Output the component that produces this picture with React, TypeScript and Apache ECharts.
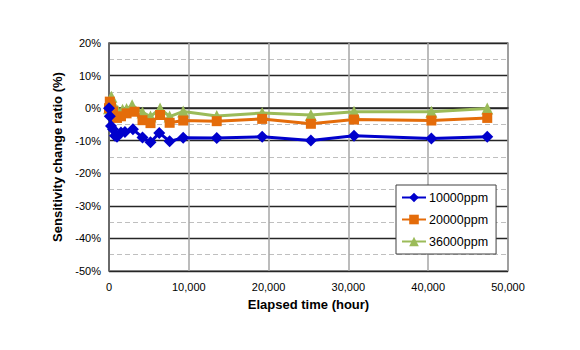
import React, { useEffect, useRef } from "react";
import * as echarts from "echarts";

const seriesNames = ["10000ppm", "20000ppm", "36000ppm"];
const seriesColors = ["#0000CC", "#E46C0A", "#9BBB59"];
const seriesSymbols = ["diamond", "rect", "triangle"];

const hours10000 = [0, 100, 250, 500, 750, 1000, 1500, 2000, 3000, 4200, 5200, 6300, 7600, 9300, 13500, 19200, 25300, 30700, 40400, 47400];
const values10000 = [0, -2.5, -5.5, -6.5, -8.5, -8.8, -7.5, -7.3, -6.5, -9.0, -10.5, -7.6, -10.2, -9.1, -9.2, -8.8, -9.9, -8.5, -9.3, -8.8];

const hours20000 = [0, 100, 250, 500, 1000, 1500, 2200, 3200, 4200, 5200, 6400, 7600, 9300, 13500, 19200, 25300, 30700, 40400, 47400];
const values20000 = [0, 2, 0.5, -1, -3.0, -2.5, -1.6, -1.1, -3.7, -4.6, -2.1, -4.5, -3.8, -4.0, -3.3, -4.8, -3.5, -3.8, -3.0];

const hours36000 = [0, 100, 300, 600, 1100, 1700, 2200, 2900, 4200, 5200, 6400, 7600, 9300, 13500, 19200, 25300, 30700, 40400, 47400];
const values36000 = [0, 2, 3.5, 1, -0.8, -0.5, -0.3, 0.9, -1.3, -2.6, -0.1, -2.6, -1.0, -2.4, -1.5, -2.1, -1.1, -1.1, -0.1];

const xAxisName = "Elapsed time (hour)";
const yAxisName = "Sensitivity change ratio (%)";

const FONT = "'Liberation Sans', Arial, sans-serif";

function zip(xs: number[], ys: number[]) {
  return xs.map((x, i) => [x, ys[i]]);
}

export default function App() {
  const ref = useRef<HTMLDivElement>(null);
  useEffect(() => {
    if (!ref.current) return;
    const chart = echarts.init(ref.current, null, { renderer: "svg" });
    const allData = [
      zip(hours10000, values10000),
      zip(hours20000, values20000),
      zip(hours36000, values36000),
    ];
    const sizes = [12, 10, 12];
    chart.setOption({
      animation: false,
      backgroundColor: "#ffffff",
      textStyle: { fontFamily: FONT },
      grid: { left: 109, right: 72, top: 43, bottom: 79, containLabel: false },
      legend: {
        orient: "vertical",
        left: 396,
        top: 185,
        padding: [6, 8, 6, 5],
        itemGap: 9,
        itemWidth: 24,
        itemHeight: 12,
        backgroundColor: "#ffffff",
        borderColor: "#404040",
        borderWidth: 1,
        textStyle: { fontFamily: FONT, fontSize: 12.5, color: "#000", padding: [0, 0, 0, -2] },
        data: seriesNames,
      },
      xAxis: {
        type: "value",
        min: 0,
        max: 50000,
        interval: 10000,
        name: xAxisName,
        nameLocation: "middle",
        nameGap: 27,
        nameTextStyle: { fontFamily: FONT, fontSize: 13, fontWeight: "bold", color: "#000" },
        axisLine: { show: true, lineStyle: { color: "#262626", width: 1.5 } },
        axisTick: { show: false },
        axisLabel: {
          fontFamily: FONT,
          fontSize: 11,
          color: "#000",
          margin: 10,
          formatter: (v: number) => v.toLocaleString("en-US"),
        },
        splitLine: { show: true, lineStyle: { color: "#A6A6A6", width: 1.5 } },
      },
      yAxis: {
        type: "value",
        min: -50,
        max: 20,
        interval: 10,
        name: yAxisName,
        nameLocation: "middle",
        nameGap: 40,
        nameTextStyle: { fontFamily: FONT, fontSize: 13, fontWeight: "bold", color: "#000" },
        axisLine: { show: true, lineStyle: { color: "#595959", width: 1.5 } },
        axisTick: { show: false },
        axisLabel: {
          fontFamily: FONT,
          fontSize: 11,
          color: "#000",
          margin: 8,
          formatter: (v: number) => `${v}%`,
        },
        splitLine: { show: true, lineStyle: { color: "#262626", width: 1.3 } },
        minorTick: { show: false, splitNumber: 2 },
        minorSplitLine: { show: true, lineStyle: { color: "#BFBFBF", width: 1, type: [5, 3] } },
      },
      series: seriesNames.map((name, i) => ({
        name,
        type: "line",
        data: allData[i],
        symbol: seriesSymbols[i],
        symbolSize: sizes[i],
        showAllSymbol: true,
        lineStyle: { color: seriesColors[i], width: 3 },
        itemStyle: { color: seriesColors[i] },
        z: 10 - i,
      })),
      graphic: [
        {
          type: "rect",
          shape: { x: 109, y: 43, width: 399, height: 228 },
          style: { fill: "none", stroke: "#404040", lineWidth: 1.2 },
          silent: true,
          z: -1,
        },
      ],
    });
    return () => chart.dispose();
  }, []);
  return <div ref={ref} style={{ width: 580, height: 350, margin: -8 }} />;
}
